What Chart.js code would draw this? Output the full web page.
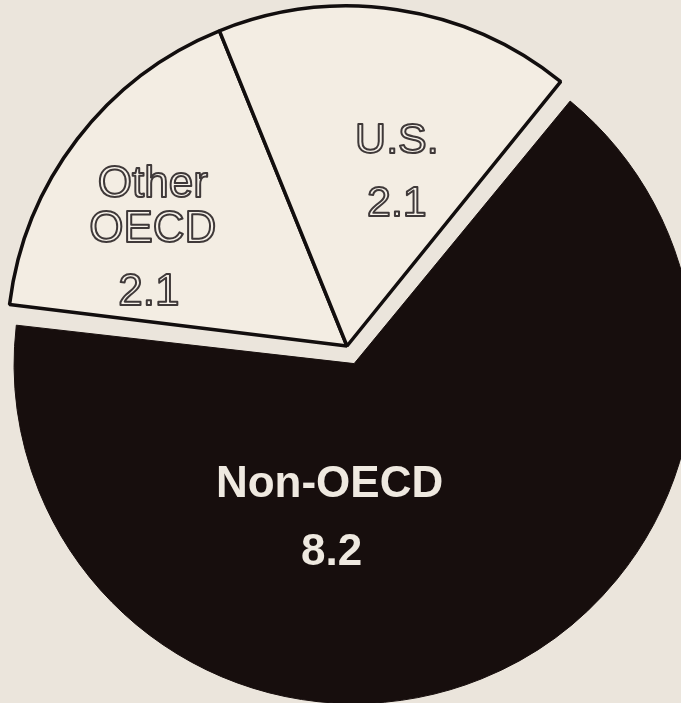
<!DOCTYPE html>
<html>
<head>
<meta charset="utf-8">
<script src="https://cdn.jsdelivr.net/npm/chart.js@4"></script>
<style>
  html, body { margin: 0; padding: 0; background: #ebe5dc; overflow: hidden; }
  #wrap { position: relative; width: 681px; height: 703px; }
  canvas { position: absolute; left: 0; top: 0; }
</style>
</head>
<body>
<div id="wrap">
  <canvas id="base" width="681" height="703"></canvas>
  <canvas id="top" width="681" height="703"></canvas>
</div>
<script>
// ---- data ----
const categories = ['Other OECD', 'U.S.', 'Non-OECD'];
const labelLines = [['Other', 'OECD'], ['U.S.'], ['Non-OECD']];
const values = [2.1, 2.1, 8.2];

// ---- styles ----
const paleFill = '#f3ede3';
const darkFill = '#170e0d';
const edge = '#120e0e';
const clear = 'rgba(0,0,0,0)';
const startRotation = -83;
const pieRadius = 340;
const explode = 76; // Chart.js moves an offset arc by offset/4 px

// label anchors (angle clockwise from top, distance from slice centre) and line offsets
const anchors = [
  { ang: -61, dist: 222, dy: [-54, -9, 54], dx: [0, 0, -4], size: 44, bold: false, outline: true },
  { ang: 16,  dist: 181, dy: [-31, 32],     dx: [0, 0],     size: 43, bold: false, outline: true },
  { ang: 189, dist: 157, dy: [-34, 34],     dx: [0, 2],     size: 44, bold: true,  outline: false }
];

function labelPlugin(which) {
  return {
    id: 'sliceLabels' + which.join(''),
    afterDatasetsDraw(chart) {
      const ctx = chart.ctx;
      const meta = chart.getDatasetMeta(0);
      which.forEach(i => {
        const arc = meta.data[i];
        const props = arc.getProps(['x', 'y', 'startAngle', 'endAngle'], true);
        const off = (arc.options.offset || 0) / 4;
        const half = (props.startAngle + props.endAngle) / 2;
        const cx = props.x + Math.cos(half) * off;
        const cy = props.y + Math.sin(half) * off;
        const a = anchors[i];
        const th = (a.ang - 90) * Math.PI / 180;
        const ax = cx + a.dist * Math.cos(th);
        const ay = cy + a.dist * Math.sin(th);
        const lines = labelLines[i].concat([String(values[i])]);
        ctx.save();
        ctx.textAlign = 'center';
        ctx.textBaseline = 'middle';
        ctx.font = (a.bold ? 'bold ' : '') + a.size + 'px "Liberation Sans", Arial, sans-serif';
        lines.forEach((t, k) => {
          const x = ax + (a.dx[k] || 0);
          const y = ay + a.dy[k];
          if (a.outline) {
            ctx.fillStyle = '#f7f2ea';
            ctx.fillText(t, x, y);
            ctx.lineWidth = 2;
            ctx.lineJoin = 'round';
            ctx.strokeStyle = '#3f3939';
            ctx.strokeText(t, x, y);
          } else {
            ctx.fillStyle = '#efe9e0';
            ctx.fillText(t, x, y);
          }
        });
        ctx.restore();
      });
    }
  };
}

const common = {
  responsive: false,
  animation: false,
  events: [],
  devicePixelRatio: 1,
  rotation: startRotation,
  layout: { padding: { left: 13, right: 0, top: 0, bottom: 11 } },
  plugins: { legend: { display: false }, tooltip: { enabled: false } }
};

// base chart: the two pale slices
new Chart(document.getElementById('base'), {
  type: 'pie',
  data: {
    labels: categories,
    datasets: [{
      data: values,
      backgroundColor: [paleFill, paleFill, clear],
      borderColor: [edge, edge, clear],
      borderWidth: 3.5,
      clip: false
    }]
  },
  options: Object.assign({}, common, { radius: pieRadius }),
  plugins: [labelPlugin([0, 1])]
});

// top chart: the exploded dark slice
new Chart(document.getElementById('top'), {
  type: 'pie',
  data: {
    labels: categories,
    datasets: [{
      data: values,
      backgroundColor: [clear, clear, darkFill],
      borderColor: [clear, clear, darkFill],
      borderWidth: 1,
      offset: [0, 0, explode],
      clip: false
    }]
  },
  options: Object.assign({}, common, { radius: pieRadius - explode / 4 }),
  plugins: [labelPlugin([2])]
});
</script>
</body>
</html>
